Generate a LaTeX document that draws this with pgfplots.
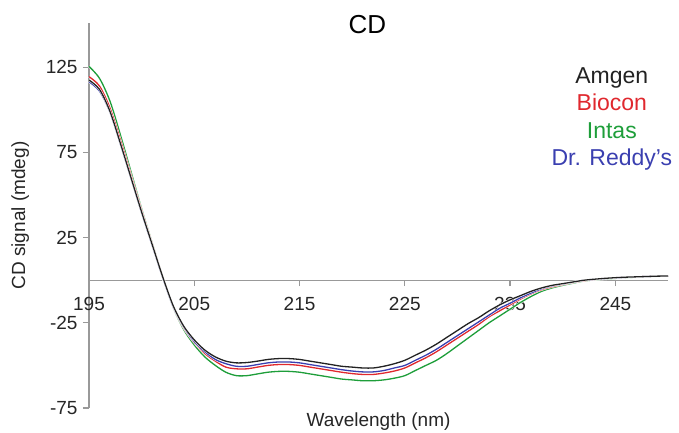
\documentclass[border=0pt]{standalone}
\usepackage{pgfplots}
\pgfplotsset{compat=1.18}
\usepackage{pgfplotstable}
\usepackage{fontspec}
\setmainfont{Liberation Sans}
\definecolor{cAm}{HTML}{222222}
\definecolor{cBi}{HTML}{E0282E}
\definecolor{cIn}{HTML}{1E9E3A}
\definecolor{cDr}{HTML}{3A3FB0}
\definecolor{axgray}{HTML}{999999}
\pgfplotstableread{
x amgen biocon intas reddy
195 117.5 119.5 125.5 116.5
196 112 114 118.5 111
197 99 101 105 98.5
198 80 82 85 79.5
199 60 61.5 63.5 59.5
200 40 41 42 39.5
201 21 21.5 22 20.5
202 2 2 2 1.5
203 -15 -15.5 -16 -15.5
204 -27 -28 -29 -27.5
205 -35 -36.5 -38 -36
206 -41 -43 -45 -42
207 -45 -47.5 -50 -46.5
208 -47.5 -51 -54 -49
209 -48.5 -52 -56 -50.5
210 -48.3 -52 -56 -50.5
211 -47.5 -51 -55 -49.5
212 -46.5 -50 -54 -48.5
213 -46 -49.5 -53.5 -48
214 -46 -49.5 -53.5 -48
215 -46.5 -50 -54 -48.5
216 -47.5 -51 -55 -49.5
217 -48.5 -52 -56 -50.5
218 -49.5 -53 -57 -51.5
219 -50.5 -54 -58 -52.5
220 -51 -54.8 -58.5 -53.3
221 -51.5 -55.3 -59 -53.8
222 -51.5 -55.3 -59 -53.8
223 -50.5 -54.5 -58.5 -53
224 -49 -53.3 -57.5 -51.5
225 -47 -51.5 -56 -50
226 -44 -48.5 -53 -47
227 -41 -45.5 -50 -44
228 -37.5 -42 -47 -40.5
229 -33.5 -38 -43 -36.5
230 -29.5 -34 -38.5 -32.5
231 -25.5 -30 -34 -28.5
232 -22 -26 -29.5 -24.5
233 -18 -21.5 -25 -20.5
234 -14.5 -18 -21 -16.5
235 -11.5 -14.5 -17 -13.5
236 -9 -11 -13 -10.3
237 -6.5 -8 -9.5 -7.5
238 -4.5 -5.5 -6.5 -5
239 -3 -3.8 -4.5 -3.3
240 -2 -2.5 -3 -2.2
241 -1 -1.3 -1.7 -1.1
242 0 -0.3 -0.5 0
243 0.6 0.4 0.2 0.5
244 1.1 1 0.7 1
245 1.5 1.4 1.1 1.4
246 1.8 1.7 1.5 1.7
247 2.0 2.0 1.8 2.0
248 2.2 2.2 2.1 2.2
249 2.4 2.4 2.3 2.4
250 2.5 2.5 2.5 2.5
}\cd
\begin{document}
\begin{tikzpicture}
\begin{axis}[
  name=ax,
  scale only axis,
  width=579pt, height=385pt,
  xmin=195, xmax=250, ymin=-75, ymax=151,
  axis x line=middle, axis y line=left,
  hide obscured x ticks=false,
  axis line style={axgray, line width=1.2pt, -},
  tick style={axgray, line width=1.2pt},
  tick align=outside,
  major tick length=6pt,
  xtick={195,205,...,245},
  ytick={-75,-25,25,75,125},
  /pgf/number format/assume math mode=true,
  ticklabel style={font=\fontsize{19}{22}\selectfont, text=black!85},
  xticklabel style={yshift=-7pt},
  yticklabel style={xshift=-2pt},
  clip=false,
  every axis plot/.append style={smooth, line width=1.3pt, preaction={draw=white, line width=2.2pt}},
]
\addplot[cIn] table[x=x, y=intas] {\cd};
\addplot[cBi] table[x=x, y=biocon] {\cd};
\addplot[cDr] table[x=x, y=reddy] {\cd};
\addplot[cAm] table[x=x, y=amgen] {\cd};
\node[font=\fontsize{26}{30}\selectfont] at (rel axis cs:0.481,0.997) {CD};
\node[font=\fontsize{19}{22}\selectfont, text=black!85] at (rel axis cs:0.5,-0.036) {Wavelength (nm)};
\node[font=\fontsize{19}{22}\selectfont, text=black!85, rotate=90] at (rel axis cs:-0.119,0.5) {CD signal (mdeg)};
\node[font=\fontsize{23}{27}\selectfont, text=cAm, anchor=base] at (rel axis cs:0.903,0.844) {Amgen};
\node[font=\fontsize{23}{27}\selectfont, text=cBi, anchor=base] at (rel axis cs:0.903,0.774) {Biocon};
\node[font=\fontsize{23}{27}\selectfont, text=cIn, anchor=base] at (rel axis cs:0.903,0.701) {Intas};
\node[font=\fontsize{23}{27}\selectfont, text=cDr, anchor=base] at (rel axis cs:0.903,0.631) {Dr. Reddy's};
\end{axis}
\pgfresetboundingbox
\useasboundingbox ([xshift=-89pt,yshift=-24pt]ax.south west) rectangle ([xshift=11pt,yshift=23pt]ax.north east);
\end{tikzpicture}
\end{document}
